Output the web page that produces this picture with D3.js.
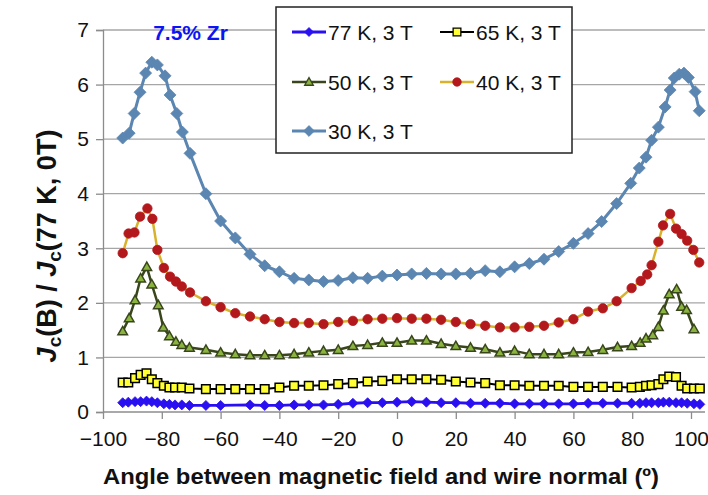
<!DOCTYPE html>
<html><head><meta charset="utf-8">
<script src="https://cdn.jsdelivr.net/npm/d3@7"></script>
<style>body{margin:0;background:#fff}svg{display:block}text{font-family:"Liberation Sans",Arial,sans-serif}</style>
</head><body><svg id="c" width="708" height="495"></svg>
<script>
// ---------- data ----------
const midAngles = [-65,-60,-55,-50,-45,-40,-35,-30,-25,-20,-15,-10,-5,0,5,10,15,20,25,30,35,40,45,50,55,60,65];

const angles30 = [-93.3,-91.1,-89.4,-87.4,-85.5,-83.4,-81.5,-78.9,-77.2,-74.9,-73.0,-70.4, ...midAngles,
                  69.6,74.7,79.5,82.4,84.7,86.6,88.9,91.2,92.9,94.3,96.0,97.6,99.1,101.4,102.8];
const values30 = [5.02,5.11,5.47,5.86,6.21,6.41,6.36,6.16,5.81,5.47,5.13,4.74,
                  4.00,3.50,3.19,2.89,2.68,2.57,2.45,2.42,2.39,2.41,2.46,2.45,2.49,2.51,2.53,2.54,2.53,2.53,2.54,2.59,2.57,2.66,2.72,2.80,2.94,3.09,3.27,
                  3.49,3.82,4.19,4.47,4.67,4.98,5.22,5.59,5.90,6.12,6.19,6.21,6.13,5.87,5.52];

const angles40 = [-93.3,-91.3,-89.3,-87.4,-84.9,-83.2,-81.5,-79.3,-77.2,-75.2,-73.2,-70.4, ...midAngles,
                  70,74.7,79.8,82.9,85.1,86.6,88.9,90.5,92.9,94.9,96.8,98.7,100.8,102.8];
const values40 = [2.91,3.27,3.29,3.58,3.73,3.54,2.97,2.64,2.48,2.39,2.30,2.19,
                  2.03,1.92,1.81,1.75,1.70,1.65,1.63,1.63,1.61,1.65,1.67,1.70,1.71,1.72,1.71,1.71,1.69,1.65,1.61,1.58,1.55,1.55,1.56,1.58,1.64,1.70,1.84,
                  1.90,2.03,2.27,2.40,2.52,2.69,3.12,3.42,3.63,3.36,3.26,3.14,2.97,2.74];

const angles50 = [-93.3,-91.1,-89.1,-87.2,-85.1,-83.4,-81.2,-79.5,-77.4,-75.2,-73.2,-70.6, ...midAngles,
                  70,75,79.8,82.7,84.7,87.0,88.9,90.6,92.6,95.1,96.8,98.5,101.0];
const values50 = [1.48,1.72,2.05,2.45,2.66,2.34,1.96,1.55,1.39,1.29,1.23,1.18,
                  1.14,1.09,1.06,1.04,1.04,1.04,1.06,1.09,1.12,1.14,1.21,1.23,1.27,1.27,1.31,1.31,1.25,1.21,1.18,1.15,1.09,1.12,1.06,1.06,1.06,1.09,1.10,
                  1.14,1.19,1.21,1.27,1.35,1.41,1.56,1.86,2.16,2.25,1.93,1.87,1.52];

const angles65 = [-93.3,-91.4,-89.1,-87.2,-85.2,-83.4,-81.5,-79.3,-77.4,-75.5,-73.2,-70.6, ...midAngles,
                  70,75,79.8,82.6,84.7,86.6,88.9,90.6,92.6,94.9,96.8,98.7,101.0,103.0];
const values65 = [0.54,0.54,0.62,0.68,0.71,0.60,0.53,0.48,0.45,0.45,0.45,0.43,
                  0.42,0.42,0.42,0.42,0.42,0.45,0.48,0.48,0.49,0.51,0.53,0.56,0.57,0.60,0.60,0.60,0.59,0.56,0.54,0.53,0.49,0.49,0.48,0.48,0.48,0.46,0.46,
                  0.46,0.46,0.45,0.46,0.48,0.49,0.51,0.60,0.65,0.64,0.48,0.43,0.43,0.43];

const angles77 = [-93.3,-91.4,-89.1,-87.2,-85.2,-83.4,-81.5,-79.3,-77.4,-75.5,-73.2,-70.6,
                  -65,-60,-50,-45,-40,-35,-30,-25,-20,-15,-10,-5,0,5,10,15,20,25,30,35,40,45,50,55,60,65,
                  70,75,79.8,82.6,84.7,86.6,88.9,90.6,92.6,94.9,96.8,98.7,101.0,103.0];
const values77 = [0.17,0.18,0.19,0.19,0.20,0.19,0.17,0.15,0.14,0.13,0.13,0.12,
                  0.12,0.12,0.13,0.12,0.12,0.13,0.13,0.13,0.14,0.16,0.17,0.17,0.18,0.19,0.18,0.17,0.17,0.16,0.16,0.16,0.15,0.15,0.15,0.15,0.15,0.16,
                  0.16,0.16,0.16,0.16,0.17,0.17,0.17,0.18,0.18,0.17,0.17,0.16,0.15,0.14];

const seriesNames = ["77 K, 3 T","65 K, 3 T","50 K, 3 T","40 K, 3 T","30 K, 3 T"];
const xTicks = [-100,-80,-60,-40,-20,0,20,40,60,80,100];
const yTicks = [0,1,2,3,4,5,6,7];
const xTitle = "Angle between magnetic field and wire normal (º)";
const annotation = "7.5% Zr";

// ---------- styles ----------
const styles = {
  "77 K, 3 T": {line:"#2a10f0", fill:"#2a10f0", stroke:"#2a10f0", shape:"diamond", size:5, lw:2.8},
  "65 K, 3 T": {line:"#000000", fill:"#ffff33", stroke:"#000000", shape:"square", size:4.3, lw:2},
  "50 K, 3 T": {line:"#39461c", fill:"#8ab43f", stroke:"#39461c", shape:"triangle", size:4.8, lw:2.5},
  "40 K, 3 T": {line:"#d8b22c", fill:"#b3181c", stroke:"#b3181c", shape:"circle", size:4.7, lw:2.5},
  "30 K, 3 T": {line:"#5b86b1", fill:"#5b86b1", stroke:"#5b86b1", shape:"diamond", size:6, lw:3}
};
const seriesData = {
  "77 K, 3 T": [angles77, values77],
  "65 K, 3 T": [angles65, values65],
  "50 K, 3 T": [angles50, values50],
  "40 K, 3 T": [angles40, values40],
  "30 K, 3 T": [angles30, values30]
};

// ---------- chart ----------
const svg = d3.select("#c");
const x = d3.scaleLinear().domain([-100,100]).range([103,691]);
const y = d3.scaleLinear().domain([0,7]).range([412,30]);
const plotRight = 705;
const gridColor = "#a6a6a6";

// gridlines
svg.append("g").selectAll("line").data(yTicks.filter(d=>d>0)).join("line")
  .attr("x1", x(-100)).attr("x2", plotRight)
  .attr("y1", d=>y(d)).attr("y2", d=>y(d))
  .attr("stroke", gridColor).attr("stroke-width",1.3);

// y axis
const yAxis = svg.append("g").attr("transform",`translate(${x(-100)},0)`)
  .call(d3.axisLeft(y).tickValues(yTicks).tickSize(7).tickPadding(7).tickFormat(d3.format("d")));
yAxis.select(".domain").attr("stroke","#8c8c8c").attr("stroke-width",1.3);
yAxis.selectAll(".tick line").attr("stroke","#8c8c8c").attr("stroke-width",1.3);
yAxis.selectAll(".tick text").attr("font-size",21).attr("fill","#111")
  .attr("font-family",'"Liberation Sans",Arial,sans-serif');

// x axis
const xAxis = svg.append("g").attr("transform",`translate(0,${y(0)})`)
  .call(d3.axisBottom(x).tickValues(xTicks).tickSize(7).tickPadding(12)
    .tickFormat(d => d < 0 ? "\u2212" + Math.abs(d) : String(d)));
xAxis.select(".domain").attr("d", `M${x(-100)},0H${plotRight}`).attr("stroke","#8c8c8c").attr("stroke-width",1.3);
xAxis.selectAll(".tick line").attr("stroke","#8c8c8c").attr("stroke-width",1.3);
xAxis.selectAll(".tick text").attr("font-size",21).attr("fill","#111")
  .attr("font-family",'"Liberation Sans",Arial,sans-serif');

// annotation (drawn above gridline)
svg.append("text").attr("x",190.5).attr("y",40).attr("text-anchor","middle")
  .attr("font-size",21).attr("font-weight","bold").attr("fill","#0a14f5").text(annotation);

// marker path
function markerPath(shape, s){
  if(shape==="diamond") return `M0,${-s}L${s},0L0,${s}L${-s},0Z`;
  if(shape==="square") return `M${-s},${-s}H${s}V${s}H${-s}Z`;
  if(shape==="triangle") return `M0,${-s}L${s},${s*0.75}L${-s},${s*0.75}Z`;
  return d3.arc()({innerRadius:0, outerRadius:s, startAngle:0, endAngle:2*Math.PI});
}

const line = d3.line().x(d=>x(d[0])).y(d=>y(d[1]));
seriesNames.forEach(name=>{
  const st = styles[name];
  const [a,v] = seriesData[name];
  const pts = a.map((ang,i)=>[ang, v[i]]);
  const g = svg.append("g");
  g.append("path").attr("d", line(pts)).attr("fill","none")
    .attr("stroke", st.line).attr("stroke-width", st.lw).attr("stroke-linejoin","round");
  g.selectAll("path.m").data(pts).join("path").attr("class","m")
    .attr("transform", d=>`translate(${x(d[0])},${y(d[1])})`)
    .attr("d", markerPath(st.shape, st.size))
    .attr("fill", st.fill).attr("stroke", st.stroke)
    .attr("stroke-width", st.shape==="square"||st.shape==="triangle" ? 1.5 : 0.8);
});

// legend
const legend = svg.append("g");
legend.append("rect").attr("x",276).attr("y",7).attr("width",296).attr("height",146)
  .attr("fill","#fff").attr("stroke","#222").attr("stroke-width",1.5);
const legCols = [292, 440], legRows = [32, 82, 131];
seriesNames.forEach((name,i)=>{
  const st = styles[name];
  const cx = legCols[i%2], cy = legRows[Math.floor(i/2)];
  const g = legend.append("g").attr("transform",`translate(${cx},${cy})`);
  g.append("line").attr("x1",0).attr("x2",34).attr("y1",0).attr("y2",0)
    .attr("stroke",st.line).attr("stroke-width",st.lw);
  g.append("path").attr("transform","translate(17,0)")
    .attr("d", markerPath(st.shape, st.size*0.9))
    .attr("fill",st.fill).attr("stroke",st.stroke)
    .attr("stroke-width", st.shape==="square"||st.shape==="triangle" ? 1.3 : 0.8);
  g.append("text").attr("x",36).attr("y",7.5).attr("font-size",21).attr("fill","#111").text(name);
});

// axis titles
svg.append("text").attr("x",381).attr("y",484).attr("text-anchor","middle")
  .attr("font-size",22).attr("font-weight","bold").attr("fill","#111")
  .attr("textLength",556).attr("lengthAdjust","spacingAndGlyphs").text(xTitle);

const yt = svg.append("text").attr("transform","translate(56,246) rotate(-90)")
  .attr("text-anchor","middle").attr("font-size",27).attr("font-weight","bold").attr("fill","#111");
yt.append("tspan").attr("font-style","italic").text("J");
yt.append("tspan").attr("font-size",19).attr("dy",5).text("c");
yt.append("tspan").attr("dy",-5).text("(B) / ");
yt.append("tspan").attr("font-style","italic").text("J");
yt.append("tspan").attr("font-size",19).attr("dy",5).text("c");
yt.append("tspan").attr("dy",-5).text("(77 K, 0T)");
</script></body></html>
